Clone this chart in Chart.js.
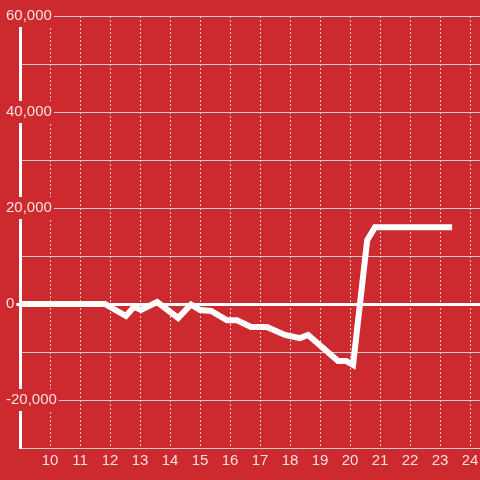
<!DOCTYPE html>
<html>
<head>
<meta charset="utf-8">
<script src="https://cdn.jsdelivr.net/npm/chart.js@4.4.0/dist/chart.umd.min.js"></script>
<style>
    html, body { margin: 0; padding: 0; background: #cc2a2f; }
    #wrap { width: 480px; height: 480px; }
</style>
</head>
<body>
<div id="wrap"><canvas id="chart" width="480" height="480"></canvas></div>
<script>
// hour of day (x) and value (y)
const hours = [9, 11.83, 12.53, 12.8, 13.03, 13.57, 14.27, 14.7, 15.0, 15.37, 15.9, 16.23, 16.7, 17.23, 17.83, 18.33, 18.6, 19.6, 19.87, 20.1, 20.57, 20.83, 23.4];
const values = [0, 0, -2500, -600, -1250, 400, -2900, -100, -1250, -1450, -3400, -3400, -4800, -4800, -6450, -7100, -6450, -11900, -11900, -12700, 13300, 16000, 16000];

const xTicks = [10, 11, 12, 13, 14, 15, 16, 17, 18, 19, 20, 21, 22, 23, 24];
const yLabelled = [60000, 40000, 20000, 0, -20000];

const BG = '#cc2a2f';
const GRID = 'rgba(220,220,220,0.9)';
const LABEL = 'rgba(255,255,255,0.85)';
const FONT = { family: 'Liberation Sans, Arial, sans-serif', size: 15 };

const points = hours.map((h, i) => ({ x: h, y: values[i] }));

new Chart(document.getElementById('chart'), {
    type: 'line',
    data: {
        datasets: [{
            data: points,
            borderColor: '#ffffff',
            borderWidth: 6,
            pointRadius: 0,
            tension: 0,
            fill: false
        }]
    },
    options: {
        responsive: false,
        animation: false,
        layout: { padding: { left: 5, top: 16, right: 0, bottom: 0 } },
        plugins: { legend: { display: false }, tooltip: { enabled: false } },
        scales: {
            x: {
                type: 'linear',
                min: 9,
                max: 24.33,
                afterBuildTicks: (scale) => { scale.ticks = xTicks.map(v => ({ value: v })); },
                afterFit: (scale) => {
                    scale.height = 32;
                    scale.paddingLeft = 0;
                    scale.paddingRight = 0;
                },
                grid: {
                    color: GRID,
                    lineWidth: 1,
                    drawTicks: false
                },
                border: { display: false, dash: [2, 2] },
                ticks: {
                    color: LABEL,
                    padding: 4,
                    autoSkip: false,
                    maxRotation: 0,
                    font: FONT
                }
            },
            y: {
                min: -30000,
                max: 60000,
                afterFit: (scale) => { scale.width = 15; },
                border: { display: true, color: '#ffffff', width: 3 },
                grid: {
                    color: (ctx) => ctx.tick && ctx.tick.value === 0 ? '#ffffff' : GRID,
                    lineWidth: (ctx) => ctx.tick && ctx.tick.value === 0 ? 3 : 1,
                    drawTicks: true,
                    tickLength: 5,
                    tickColor: (ctx) => ctx.tick && ctx.tick.value === 0 ? '#ffffff' : 'rgba(0,0,0,0)'
                },
                ticks: {
                    stepSize: 10000,
                    mirror: true,
                    crossAlign: 'near',
                    padding: -14,
                    color: LABEL,
                    showLabelBackdrop: (ctx) => yLabelled.includes(ctx.tick.value),
                    backdropColor: BG,
                    backdropPadding: 2,
                    font: FONT,
                    callback: (v) => yLabelled.includes(v) ? v.toLocaleString('en-US') : ''
                }
            }
        }
    }
});
</script>
</body>
</html>
